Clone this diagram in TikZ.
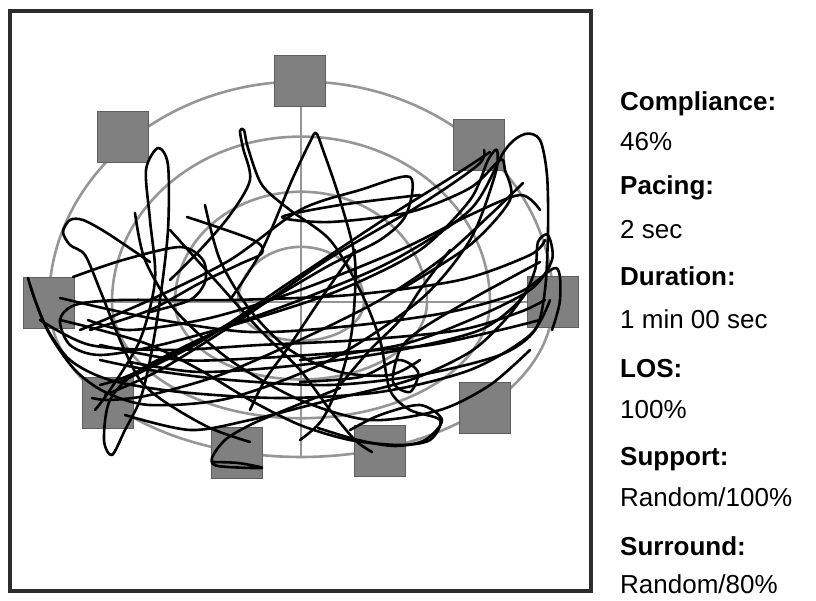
\documentclass[tikz,border=0pt]{standalone}
\usepackage{fontspec}
\setmainfont{Liberation Sans}
\usepackage{xcolor}
\definecolor{ringgray}{RGB}{150,150,150}
\definecolor{boxgray}{RGB}{128,128,128}
\definecolor{boxedge}{RGB}{95,95,95}
\definecolor{framegray}{RGB}{45,45,45}
\usetikzlibrary{positioning}

\tikzset{
  ring/.style={draw=ringgray, line width=2.6pt},
  target/.style={draw=boxedge, fill=boxgray, line width=1.2pt, minimum size=51pt, inner sep=0pt},
  trace/.style={draw=black, line width=2.6pt, line cap=round, line join=round},
  caption/.style={anchor=base west, inner sep=0pt, font=\fontsize{26}{30}\selectfont\bfseries},
  figure/.style={anchor=base west, inner sep=0pt, font=\fontsize{26}{30}\selectfont}
}

\begin{document}
\begin{tikzpicture}[x=1pt, y=-1pt]
\useasboundingbox (0,0) rectangle (816,601);

% frame
\draw[framegray, line width=3.2pt] (10,11) rectangle (591,591);

% rings, lower half squashed
\coordinate (c) at (301,302);
\foreach \r in {63,126,189,252}{
  \draw[ring] (c) ++(\r,0) arc[start angle=0, end angle=-180, x radius=\r, y radius={0.875*\r}];
  \draw[ring] (c) ++(\r,0) arc[start angle=0, end angle=180, x radius=\r, y radius={0.615*\r}];
}
\draw[ring] (301,81) -- (301,457);
\draw[ring] (49,302) -- (553,302);

% targets
\node[target] (sqN)   at (300,81)  {};
\node[target] (sqNW)  at (123,137) {};
\node[target] (sqNE)  at (479,145) {};
\node[target] (sqW)   at (49,303)  {};
\node[target] (sqE)   at (553,302) {};
\node[target] (sqSW)  at (108,403) {};
\node[target] (sqSSW) at (237,453) {};
\node[target] (sqSSE) at (380,451) {};
\node[target] (sqSE)  at (485,408) {};

% trajectory
\draw[trace] plot[smooth] coordinates {(28,278) (35,300) (50,335) (75,370) (105,392) (150,405) (230,398) (330,360) (420,300) (470,240) (495,175) (497,150) (488,160) (470,200) (420,250) (340,290) (250,320) (160,345) (100,355) (70,345) (60,320) (75,305) (120,300) (230,300) (350,295) (460,280) (530,255) (545,240)};
\draw[trace] plot[smooth] coordinates {(95,410) (110,390) (140,340) (155,280) (150,220) (146,170) (158,148) (168,165) (168,230) (160,300) (150,360) (140,400) (125,430) (112,455) (104,440) (110,400) (140,370) (220,330) (300,300) (390,262) (470,210) (505,150) (525,134) (540,140) (547,175) (548,230) (545,290) (535,330) (500,355) (420,375) (330,385) (230,380) (150,370) (100,360)};
\draw[trace] plot[smooth] coordinates {(170,280) (200,250) (230,215) (250,180) (243,148) (240,131) (244,130) (248,148) (262,185) (290,210) (330,240) (360,290) (380,340) (390,390) (410,410) (440,420) (430,440) (400,445) (350,440) (300,425) (250,400) (200,370) (150,345) (100,330) (60,320)};
\draw[trace] plot[smooth] coordinates {(230,300) (262,250) (292,180) (310,142) (316,133) (323,150) (340,200) (355,260) (352,330) (340,380) (322,420) (300,440)};
\draw[trace] plot[smooth] coordinates {(80,330) (150,300) (230,260) (300,210) (360,190) (410,177) (406,215) (380,240) (330,265) (270,300) (200,340) (130,375) (100,385)};
\draw[trace] plot[smooth] coordinates {(420,195) (340,205) (282,217) (330,222) (410,212) (470,188) (500,160) (505,170) (510,200) (470,245) (400,290)};
\draw[trace] plot[smooth] coordinates {(523,183) (490,215) (440,260) (380,300) (300,340) (220,375) (150,395) (110,400) (92,398)};
\draw[trace] plot[smooth] coordinates {(150,262) (107,233) (83,220) (70,220) (63,232) (70,245) (85,255) (100,290) (120,340) (140,380) (165,402) (210,428) (250,442)};
\draw[trace] plot[smooth] coordinates {(340,388) (285,410) (250,425) (225,440) (212,458) (218,466) (262,468) (238,463) (212,462)};
\draw[trace] plot[smooth] coordinates {(350,430) (380,415) (420,405) (442,420) (425,440) (395,446) (358,440) (318,428)};
\draw[trace] plot[smooth] coordinates {(300,360) (400,345) (470,320) (530,290) (552,260) (548,235) (538,242) (535,270) (520,300) (480,330) (400,350) (300,365) (200,372) (130,362)};
\draw[trace] plot[smooth] coordinates {(60,298) (150,318) (250,332) (350,326) (450,312) (520,292) (556,268) (560,300) (552,330)};
\draw[trace] plot[smooth] coordinates {(300,382) (360,377) (398,360) (418,372) (410,392) (393,382) (400,350) (420,330) (470,300) (540,262)};
\draw[trace] plot[smooth] coordinates {(105,395) (160,370) (240,320) (330,258) (420,205) (478,165) (484,150)};
\draw[trace] plot[smooth] coordinates {(120,382) (200,342) (290,282) (380,222) (455,175) (490,152)};
\draw[trace] plot[smooth] coordinates {(73,277) (123,260) (180,247) (203,260) (205,282) (190,300) (150,312)};
\draw[trace] plot[smooth] coordinates {(187,217) (253,240) (262,253) (240,264) (200,283) (150,310) (90,330)};
\draw[trace] plot[smooth] coordinates {(40,320) (90,345) (170,350) (260,345) (360,340) (460,330) (520,312) (545,300)};
\draw[trace] plot[smooth] coordinates {(135,213) (145,260) (175,310) (230,360) (300,400) (370,420) (440,410) (490,385) (530,350)};
\draw[trace] plot[smooth] coordinates {(30,285) (45,325) (70,360) (110,380) (180,392) (280,398) (380,392) (470,370) (530,335) (550,300)};
\draw[trace] plot[smooth] coordinates {(170,230) (215,280) (260,330) (300,370) (330,410) (355,440) (372,452)};
\draw[trace] plot[smooth] coordinates {(88,320) (130,330) (210,318) (300,290) (400,250) (470,215) (520,195) (540,210)};
\draw[trace] plot[smooth] coordinates {(125,415) (190,430) (250,420) (330,400) (410,380) (470,352) (505,320) (528,290)};
\draw[trace] plot[smooth] coordinates {(205,205) (220,260) (250,310) (290,350) (340,372) (390,375) (420,360)};
\draw[trace] plot[smooth] coordinates {(355,250) (320,300) (290,345) (265,380) (250,410)};
\draw[trace] plot[smooth] coordinates {(450,250) (420,290) (400,320) (370,350) (340,385)};
\draw[trace] plot[smooth] coordinates {(100,345) (180,360) (260,358) (350,352) (430,345) (500,330) (540,320)};

% readouts
\node[caption] (cmpL) at (620,111) {Compliance:};
\node[figure]  (cmpV) at (620,151) {46\%};
\node[caption] (pacL) at (620,195) {Pacing:};
\node[figure]  (pacV) at (620,239) {2 sec};
\node[caption] (durL) at (620,286) {Duration:};
\node[figure]  (durV) at (620,329) {1 min 00 sec};
\node[caption] (losL) at (620,377) {LOS:};
\node[figure]  (losV) at (620,418) {100\%};
\node[caption] (supL) at (620,465) {Support:};
\node[figure]  (supV) at (620,506) {Random/100\%};
\node[caption] (surL) at (620,555) {Surround:};
\node[figure]  (surV) at (620,593) {Random/80\%};
\end{tikzpicture}
\end{document}
